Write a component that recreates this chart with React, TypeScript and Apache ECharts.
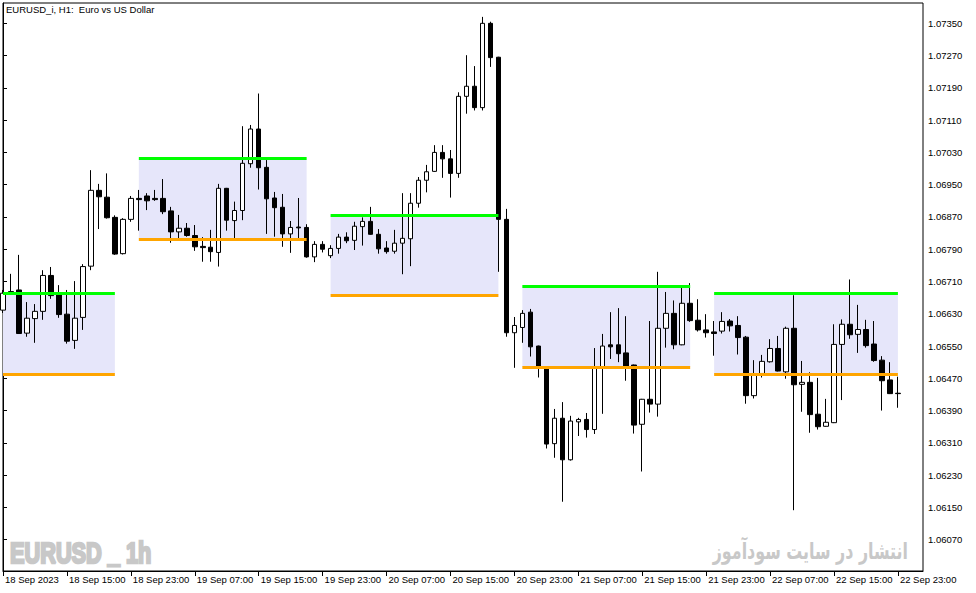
import React, { useEffect, useRef } from "react";
import * as echarts from "echarts";

// Hourly EURUSD candles, 18 Sep 2023 07:00 -> 22 Sep 2023 23:00 (index = hour offset)
const opens = [
  1.06639, 1.06685, 1.06689, 1.06582, 1.06618, 1.06636, 1.06725, 1.06681,
  1.06629, 1.06564, 1.06621, 1.06748, 1.06936, 1.06919, 1.06869, 1.06779,
  1.06864, 1.06916, 1.06922, 1.06916, 1.06916, 1.06885, 1.06833, 1.06842,
  1.06824, 1.06797, 1.06795, 1.06782, 1.06941, 1.06861, 1.06886, 1.07002,
  1.07088, 1.06993, 1.06917, 1.06894, 1.06828, 1.06845, 1.06844, 1.06771,
  1.06802, 1.06774, 1.06792, 1.06820, 1.06812, 1.06846, 1.06859, 1.06827,
  1.06793, 1.06785, 1.06805, 1.06816, 1.06904, 1.06961, 1.06983, 1.07030,
  1.07014, 1.06978, 1.07169, 1.07194, 1.07141, 1.07350, 1.07266, 1.06864,
  1.06583, 1.06596, 1.06634, 1.06550, 1.06495, 1.06308, 1.06371, 1.06268,
  1.06362, 1.06368, 1.06343, 1.06499, 1.06553, 1.06553, 1.06533, 1.06503,
  1.06356, 1.06418, 1.06406, 1.06594, 1.06631, 1.06553, 1.06656, 1.06614,
  1.06590, 1.06585, 1.06587, 1.06612, 1.06601, 1.06572, 1.06427, 1.06482,
  1.06511, 1.06544, 1.06486, 1.06594, 1.06455, 1.06460, 1.06381, 1.06351,
  1.06360, 1.06554, 1.06604, 1.06579, 1.06591, 1.06555, 1.06515, 1.06466,
  1.06433,
];
const closes = [
  1.06681, 1.06683, 1.06581, 1.06619, 1.06636, 1.06725, 1.06675, 1.06628,
  1.06562, 1.06619, 1.06747, 1.06936, 1.06920, 1.06868, 1.06778, 1.06864,
  1.06916, 1.06913, 1.06910, 1.06913, 1.06883, 1.06833, 1.06842, 1.06824,
  1.06796, 1.06794, 1.06784, 1.06941, 1.06862, 1.06886, 1.07003, 1.07088,
  1.06992, 1.06915, 1.06893, 1.06828, 1.06844, 1.06843, 1.06771, 1.06802,
  1.06790, 1.06792, 1.06820, 1.06811, 1.06847, 1.06859, 1.06827, 1.06791,
  1.06784, 1.06805, 1.06817, 1.06904, 1.06961, 1.06982, 1.07030, 1.07014,
  1.06978, 1.07169, 1.07194, 1.07141, 1.07350, 1.07265, 1.06864, 1.06583,
  1.06601, 1.06631, 1.06548, 1.06497, 1.06307, 1.06371, 1.06268, 1.06364,
  1.06368, 1.06343, 1.06497, 1.06550, 1.06548, 1.06531, 1.06499, 1.06354,
  1.06418, 1.06406, 1.06594, 1.06631, 1.06553, 1.06656, 1.06613, 1.06590,
  1.06583, 1.06581, 1.06611, 1.06600, 1.06571, 1.06427, 1.06477, 1.06512,
  1.06544, 1.06488, 1.06594, 1.06454, 1.06460, 1.06380, 1.06350, 1.06361,
  1.06554, 1.06604, 1.06578, 1.06591, 1.06551, 1.06514, 1.06464, 1.06432,
  1.06432,
];
const highs = [
  1.06689, 1.06729, 1.06776, 1.06659, 1.06654, 1.06738, 1.06746, 1.06701,
  1.06689, 1.06711, 1.06753, 1.06986, 1.06952, 1.06978, 1.06874, 1.06867,
  1.06922, 1.06937, 1.06929, 1.06937, 1.06964, 1.06895, 1.06875, 1.06855,
  1.06850, 1.06820, 1.06838, 1.06952, 1.06942, 1.06908, 1.07095, 1.07098,
  1.07176, 1.07011, 1.06932, 1.06927, 1.06860, 1.06917, 1.06852, 1.06810,
  1.06810, 1.06800, 1.06828, 1.06832, 1.06858, 1.06869, 1.06895, 1.06840,
  1.06810, 1.06838, 1.06929, 1.06929, 1.06969, 1.06999, 1.07048, 1.07048,
  1.07036, 1.07179, 1.07271, 1.07244, 1.07366, 1.07354, 1.07267, 1.06890,
  1.06622, 1.06639, 1.06642, 1.06551, 1.06499, 1.06394, 1.06411, 1.06377,
  1.06372, 1.06384, 1.06545, 1.06580, 1.06634, 1.06644, 1.06624, 1.06504,
  1.06419, 1.06612, 1.06734, 1.06684, 1.06663, 1.06694, 1.06706, 1.06666,
  1.06629, 1.06612, 1.06634, 1.06617, 1.06624, 1.06575, 1.06515, 1.06528,
  1.06567, 1.06575, 1.06598, 1.06676, 1.06513, 1.06485, 1.06471, 1.06419,
  1.06604, 1.06616, 1.06715, 1.06652, 1.06615, 1.06612, 1.06525, 1.06510,
  1.06474,
];
const lows = [
  1.06632, 1.06679, 1.06580, 1.06573, 1.06558, 1.06615, 1.06667, 1.06620,
  1.06556, 1.06543, 1.06590, 1.06738, 1.06840, 1.06866, 1.06776, 1.06777,
  1.06858, 1.06836, 1.06887, 1.06910, 1.06877, 1.06806, 1.06817, 1.06821,
  1.06786, 1.06759, 1.06759, 1.06747, 1.06836, 1.06817, 1.06862, 1.06992,
  1.06938, 1.06828, 1.06821, 1.06796, 1.06781, 1.06815, 1.06769, 1.06758,
  1.06782, 1.06768, 1.06779, 1.06805, 1.06788, 1.06799, 1.06826, 1.06779,
  1.06779, 1.06779, 1.06728, 1.06748, 1.06893, 1.06931, 1.06982, 1.06967,
  1.06918, 1.06967, 1.07126, 1.07134, 1.07134, 1.07242, 1.06734, 1.06573,
  1.06496, 1.06558, 1.06524, 1.06472, 1.06296, 1.06273, 1.06164, 1.06266,
  1.06327, 1.06323, 1.06332, 1.06382, 1.06518, 1.06510, 1.06464, 1.06333,
  1.06239, 1.06385, 1.06375, 1.06546, 1.06542, 1.06552, 1.06610, 1.06586,
  1.06571, 1.06526, 1.06581, 1.06586, 1.06529, 1.06407, 1.06420, 1.06472,
  1.06509, 1.06487, 1.06469, 1.06143, 1.06387, 1.06335, 1.06343, 1.06350,
  1.06359, 1.06416, 1.06568, 1.06533, 1.06546, 1.06511, 1.06390, 1.06431,
  1.06397,
];

// Range boxes (start / end candle index, top and bottom price)
const boxStart = [0, 17, 41, 65, 89];
const boxEnd = [14, 38, 62, 86, 112];
const boxTop = [1.06681, 1.07015, 1.06875, 1.06698, 1.06681];
const boxBottom = [1.06481, 1.06815, 1.06675, 1.06498, 1.06481];

// Axis ticks
const timeTickIndex = [0, 8, 16, 24, 32, 40, 48, 56, 64, 72, 80, 88, 96, 104, 112];
const timeTickLabels = [
  "18 Sep 2023", "18 Sep 15:00", "18 Sep 23:00", "19 Sep 07:00", "19 Sep 15:00",
  "19 Sep 23:00", "20 Sep 07:00", "20 Sep 15:00", "20 Sep 23:00", "21 Sep 07:00",
  "21 Sep 15:00", "21 Sep 23:00", "22 Sep 07:00", "22 Sep 15:00", "22 Sep 23:00",
];
const priceTicks = [
  1.0607, 1.0615, 1.0623, 1.0631, 1.0639, 1.0647, 1.0655, 1.0663, 1.0671,
  1.0679, 1.0687, 1.0695, 1.0703, 1.0711, 1.0719, 1.0727, 1.0735,
];

const FONT = '"Liberation Sans", Arial, sans-serif';

export default function App() {
  const ref = useRef<HTMLDivElement>(null);
  useEffect(() => {
    if (!ref.current) return;
    const chart = echarts.init(ref.current, null, { renderer: "svg" });
    const candles = opens.map((o, i) => [i, o, closes[i], lows[i], highs[i]]);
    const areas = boxStart.map((s, k) => [
      { coord: [s, boxTop[k]] },
      { coord: [boxEnd[k], boxBottom[k]] },
    ]);
    const lines: any[] = [];
    boxStart.forEach((s, k) => {
      lines.push([
        { coord: [s, boxTop[k]], lineStyle: { color: "#00ff00", width: 3, type: "solid" } },
        { coord: [boxEnd[k], boxTop[k]] },
      ]);
      lines.push([
        { coord: [s, boxBottom[k]], lineStyle: { color: "#ffa500", width: 3, type: "solid" } },
        { coord: [boxEnd[k], boxBottom[k]] },
      ]);
    });
    chart.setOption({
      animation: false,
      backgroundColor: "#ffffff",
      textStyle: { fontFamily: FONT },
      grid: {
        left: 3,
        top: 3,
        width: 920,
        height: 568,
        show: true,
        borderColor: "#000",
        borderWidth: 1,
        backgroundColor: "#fff",
      },
      xAxis: {
        type: "value",
        min: 0,
        max: 115.14,
        position: "bottom",
        splitLine: { show: false },
        axisLine: { show: true, lineStyle: { color: "#000", width: 1 } },
        axisTick: {
          show: true,
          length: 5,
          customValues: timeTickIndex,
          lineStyle: { color: "#000" },
        },
        axisLabel: {
          customValues: timeTickIndex,
          formatter: (v: number) => timeTickLabels[timeTickIndex.indexOf(Math.round(v))] ?? "",
          align: "left",
          margin: 3,
          padding: [0, 0, 0, 2],
          fontSize: 9.5,
          color: "#000",
          fontFamily: FONT,
        },
      },
      yAxis: {
        type: "value",
        position: "right",
        min: 1.059923,
        max: 1.074004,
        scale: true,
        splitLine: { show: false },
        axisLine: { show: true, lineStyle: { color: "#000", width: 1 } },
        axisTick: {
          show: true,
          length: 4,
          customValues: priceTicks,
          lineStyle: { color: "#000" },
        },
        axisLabel: {
          customValues: priceTicks,
          formatter: (v: number) => v.toFixed(5),
          margin: 5,
          fontSize: 9.5,
          color: "#000",
          fontFamily: FONT,
        },
      },
      graphic: [
        {
          type: "text",
          x: 6,
          y: 9,
          silent: true,
          style: {
            text: "EURUSD_i, H1:  Euro vs US Dollar",
            font: `9.5px ${FONT}`,
            fill: "#000",
            verticalAlign: "middle",
          },
        },
        {
          type: "text",
          x: 10,
          y: 552.5,
          scaleX: 0.75,
          silent: true,
          style: {
            text: "EURUSD _ 1h",
            font: `bold 29px ${FONT}`,
            fill: "#c8c8c8",
            stroke: "#c8c8c8",
            lineWidth: 2.5,
            verticalAlign: "middle",
          },
        },
        {
          type: "text",
          x: 908,
          y: 551,
          scaleX: 0.69,
          silent: true,
          style: {
            text: "انتشار در سایت سودآموز",
            font: 'bold 23px "DejaVu Sans", sans-serif',
            fill: "#c8c8c8",
            align: "right",
            verticalAlign: "middle",
          },
        },
      ],
      series: [
        {
          type: "candlestick",
          data: candles,
          barWidth: 5,
          clip: true,
          silent: true,
          itemStyle: {
            color: "#ffffff",
            color0: "#000000",
            borderColor: "#000000",
            borderColor0: "#000000",
            borderColorDoji: "#000000",
            borderWidth: 1,
          },
          markArea: {
            silent: true,
            itemStyle: { color: "#e6e6fa", opacity: 1, borderWidth: 0 },
            label: { show: false },
            data: areas,
          },
          markLine: {
            silent: true,
            symbol: ["none", "none"],
            label: { show: false },
            lineStyle: { width: 3, type: "solid" },
            data: lines,
          },
        },
      ],
    });
    return () => chart.dispose();
  }, []);
  return (
    <div
      ref={ref}
      style={{ position: "fixed", left: 0, top: 0, width: 976, height: 593, background: "#fff" }}
    />
  );
}
